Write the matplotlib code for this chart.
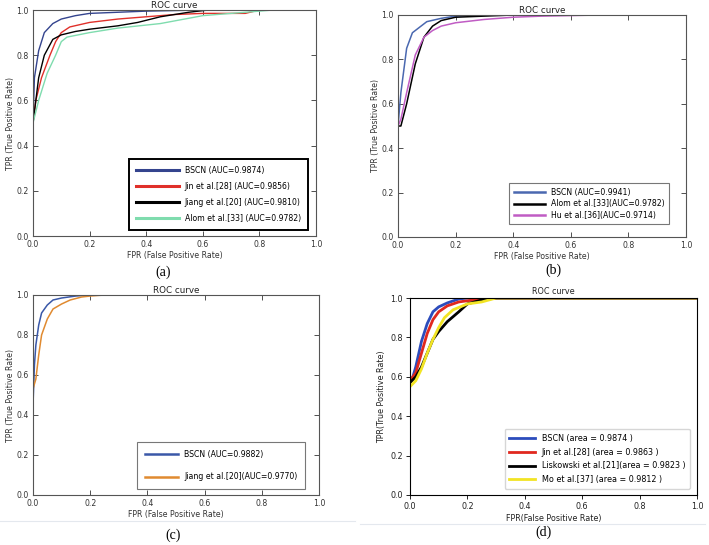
import matplotlib
matplotlib.use('Agg')
import matplotlib.pyplot as plt
from matplotlib.lines import Line2D

# ---- panel (a) ----
a_fpr_bscn = [0, 0.005, 0.02, 0.04, 0.07, 0.1, 0.15, 0.2, 0.3, 0.4, 0.6, 1.0]
a_tpr_bscn = [0.5, 0.7, 0.82, 0.9, 0.94, 0.96, 0.975, 0.985, 0.99, 0.995, 1.0, 1.0]
a_fpr_jin = [0, 0.01, 0.03, 0.06, 0.08, 0.1, 0.13, 0.2, 0.3, 0.4, 0.5, 0.6, 0.75, 0.8, 1.0]
a_tpr_jin = [0.5, 0.6, 0.7, 0.8, 0.86, 0.9, 0.925, 0.945, 0.96, 0.97, 0.98, 0.985, 0.985, 1.0, 1.0]
a_fpr_jiang = [0, 0.02, 0.04, 0.07, 0.1, 0.15, 0.2, 0.3, 0.37, 0.45, 0.55, 0.62, 1.0]
a_tpr_jiang = [0.5, 0.7, 0.8, 0.87, 0.89, 0.905, 0.915, 0.93, 0.945, 0.97, 0.99, 1.0, 1.0]
a_fpr_alom = [0, 0.02, 0.05, 0.08, 0.1, 0.12, 0.2, 0.3, 0.45, 0.6, 0.8, 0.85, 1.0]
a_tpr_alom = [0.5, 0.6, 0.72, 0.8, 0.86, 0.88, 0.9, 0.92, 0.94, 0.975, 0.995, 1.0, 1.0]
a_labels = ['BSCN (AUC=0.9874)', 'Jin et al.[28] (AUC=0.9856)',
            'Jiang et al.[20] (AUC=0.9810)', 'Alom et al.[33] (AUC=0.9782)']

# ---- panel (b) ----
b_fpr_bscn = [0, 0.01, 0.03, 0.05, 0.08, 0.1, 0.15, 0.2, 0.3, 1.0]
b_tpr_bscn = [0.5, 0.65, 0.85, 0.92, 0.95, 0.97, 0.985, 0.995, 1.0, 1.0]
b_fpr_alom = [0, 0.01, 0.03, 0.06, 0.09, 0.12, 0.15, 0.2, 0.3, 0.4, 1.0]
b_tpr_alom = [0.5, 0.5, 0.6, 0.78, 0.9, 0.95, 0.975, 0.99, 0.995, 1.0, 1.0]
b_fpr_hu = [0, 0.01, 0.03, 0.06, 0.09, 0.12, 0.15, 0.2, 0.3, 0.4, 0.5, 0.7, 1.0]
b_tpr_hu = [0.5, 0.53, 0.65, 0.82, 0.9, 0.93, 0.95, 0.965, 0.98, 0.99, 0.995, 1.0, 1.0]
b_labels = ['BSCN (AUC=0.9941)', 'Alom et al.[33](AUC=0.9782)',
            'Hu et al.[36](AUC=0.9714)']

# ---- panel (c) ----
c_fpr_bscn = [0, 0.005, 0.01, 0.02, 0.03, 0.05, 0.07, 0.1, 0.15, 0.2, 1.0]
c_tpr_bscn = [0.45, 0.65, 0.75, 0.85, 0.91, 0.95, 0.975, 0.985, 0.995, 1.0, 1.0]
c_fpr_jiang = [0, 0.01, 0.02, 0.03, 0.05, 0.07, 0.1, 0.13, 0.17, 0.2, 0.25, 1.0]
c_tpr_jiang = [0.53, 0.58, 0.7, 0.8, 0.88, 0.93, 0.955, 0.975, 0.99, 0.995, 1.0, 1.0]
c_labels = ['BSCN (AUC=0.9882)', 'Jiang et al.[20](AUC=0.9770)']

# ---- panel (d) ----
d_fpr_bscn = [0, 0.01, 0.02, 0.04, 0.06, 0.08, 0.1, 0.13, 0.17, 0.2, 1.0]
d_tpr_bscn = [0.58, 0.6, 0.65, 0.78, 0.87, 0.93, 0.955, 0.975, 0.995, 1.0, 1.0]
d_fpr_jin = [0, 0.02, 0.04, 0.06, 0.08, 0.1, 0.13, 0.17, 0.22, 0.3, 1.0]
d_tpr_jin = [0.58, 0.62, 0.72, 0.82, 0.89, 0.93, 0.96, 0.98, 0.99, 1.0, 1.0]
d_fpr_lis = [0, 0.02, 0.04, 0.06, 0.08, 0.1, 0.13, 0.17, 0.2, 0.25, 0.3, 1.0]
d_tpr_lis = [0.57, 0.6, 0.65, 0.72, 0.79, 0.83, 0.88, 0.93, 0.97, 0.99, 1.0, 1.0]
d_fpr_mo = [0, 0.02, 0.04, 0.06, 0.08, 0.1, 0.12, 0.15, 0.2, 0.25, 0.3, 1.0]
d_tpr_mo = [0.55, 0.58, 0.64, 0.72, 0.79, 0.85, 0.9, 0.94, 0.97, 0.98, 1.0, 1.0]
d_labels = ['BSCN (area = 0.9874 )', 'Jin et al.[28] (area = 0.9863 )',
            'Liskowski et al.[21](area = 0.9823 )', 'Mo et al.[37] (area = 0.9812 )']

ticks = [0.0, 0.2, 0.4, 0.6, 0.8, 1.0]

W, H = 709, 545
FS = 5.6  # most text in the panels is tiny
plt.rcParams['font.family'] = 'DejaVu Sans'
fig = plt.figure(figsize=(W / 100, H / 100), dpi=100)


def px_axes(left, top, right, bottom):
    return fig.add_axes([left / W, 1 - bottom / H, (right - left) / W, (bottom - top) / H])


def classic(ax, xlabel='FPR (False Positive Rate)', ylabel='TPR (True Positive Rate)'):
    ax.set_xlim(0, 1)
    ax.set_ylim(0, 1)
    ax.set_xticks(ticks)
    ax.set_yticks(ticks)
    ax.tick_params(direction='in', top=True, right=True, length=3.5, width=0.6,
                   labelsize=FS, colors='#333333', pad=3)
    for s in ax.spines.values():
        s.set_color('#555555')
        s.set_linewidth(0.8)
    ax.set_title('ROC curve', fontsize=6.3, pad=1.5, color='#222222')
    ax.set_xlabel(xlabel, fontsize=FS, color='#333333', labelpad=1.5)
    ax.set_ylabel(ylabel, fontsize=FS, color='#333333', labelpad=1)


# (a)
ax = px_axes(33, 10, 316, 236)
ax.plot(a_fpr_bscn, a_tpr_bscn, color='#34448e', lw=1, label=a_labels[0])
ax.plot(a_fpr_jin, a_tpr_jin, color='#e0302a', lw=1, label=a_labels[1])
ax.plot(a_fpr_jiang, a_tpr_jiang, color='black', lw=1, label=a_labels[2])
ax.plot(a_fpr_alom, a_tpr_alom, color='#7fdcae', lw=1, label=a_labels[3])
classic(ax)
leg = ax.legend(loc='lower right', bbox_to_anchor=(0.985, 0.01), fontsize=FS,
                handlelength=5.5, labelspacing=0.9, borderpad=0.9, fancybox=False,
                edgecolor='black', framealpha=1)
leg.get_frame().set_linewidth(1.4)
for ln in leg.get_lines():
    ln.set_linewidth(2.2)

# (b)
ax = px_axes(398, 15, 686, 237)
ax.plot(b_fpr_bscn, b_tpr_bscn, color='#4a68b0', lw=1.1, label=b_labels[0])
ax.plot(b_fpr_alom, b_tpr_alom, color='black', lw=1.1, label=b_labels[1])
ax.plot(b_fpr_hu, b_tpr_hu, color='#c05cc4', lw=1.1, label=b_labels[2])
classic(ax)
leg = ax.legend(loc='lower right', bbox_to_anchor=(0.955, 0.04), fontsize=FS,
                handlelength=4.0, labelspacing=0.3, borderpad=0.6, fancybox=False,
                edgecolor='#777777', framealpha=1)
leg.get_frame().set_linewidth(0.8)
for ln in leg.get_lines():
    ln.set_linewidth(1.8)

# (c)
ax = px_axes(33, 295, 319, 495)
ax.plot(c_fpr_bscn, c_tpr_bscn, color='#3a58a8', lw=1.1, label=c_labels[0])
ax.plot(c_fpr_jiang, c_tpr_jiang, color='#e08a30', lw=1.1, label=c_labels[1])
classic(ax)
leg = ax.legend(loc='lower right', bbox_to_anchor=(0.965, 0.01), fontsize=FS,
                handlelength=4.2, labelspacing=1.7, borderpad=1.0, fancybox=False,
                edgecolor='#777777', framealpha=1)
leg.get_frame().set_linewidth(0.8)
for ln in leg.get_lines():
    ln.set_linewidth(1.8)

# (d) - newer matplotlib look
ax = px_axes(410, 298, 697, 495)
ax.plot(d_fpr_bscn, d_tpr_bscn, color='#2c4cbc', lw=2, label=d_labels[0])
ax.plot(d_fpr_jin, d_tpr_jin, color='#e0281e', lw=2, label=d_labels[1])
ax.plot(d_fpr_lis, d_tpr_lis, color='black', lw=2, label=d_labels[2])
ax.plot(d_fpr_mo, d_tpr_mo, color='#f2e424', lw=2, label=d_labels[3])
ax.set_xlim(0, 1)
ax.set_ylim(0, 1)
ax.set_xticks(ticks)
ax.set_yticks(ticks)
ax.tick_params(direction='out', length=3, width=0.7, labelsize=5.8, colors='#222222', pad=2)
ax.set_title('ROC curve', fontsize=5.8, pad=3, color='#222222')
ax.set_xlabel('FPR(False Positive Rate)', fontsize=5.8, color='#222222', labelpad=2)
ax.set_ylabel('TPR(True Positive Rate)', fontsize=5.8, color='#222222', labelpad=3)
leg = ax.legend(loc='lower right', bbox_to_anchor=(0.99, 0.01), fontsize=5.8,
                handlelength=3.2, labelspacing=0.6, borderpad=0.6,
                framealpha=0.8, edgecolor='#cccccc')

# sub-figure captions
for x, y, s in [(163, 272, '(a)'), (553, 270, '(b)'), (173, 535, '(c)'), (543, 532, '(d)')]:
    fig.text(x / W, 1 - y / H, s, ha='center', va='center', fontsize=10,
             family='Liberation Serif')

# faint scan borders
fig.add_artist(Line2D([0, 355 / W], [1 - 521 / H] * 2, color='#e4e8ee', lw=0.8))
fig.add_artist(Line2D([360 / W, 705 / W], [1 - 524 / H] * 2, color='#e4e8ee', lw=0.8))

fig.savefig('out.png', dpi=100)
